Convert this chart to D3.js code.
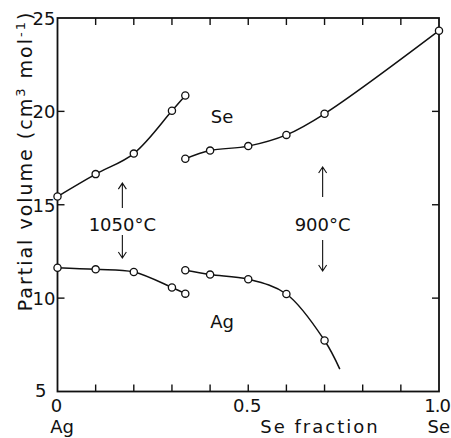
<!DOCTYPE html>
<html>
<head>
<meta charset="utf-8">
<script src="https://cdn.jsdelivr.net/npm/d3@7"></script>
<style>
  body { margin: 0; background: #fff; }
  text { font-family: "DejaVu Sans", sans-serif; fill: #111; }
</style>
</head>
<body>
<svg width="451" height="438"></svg>
<script>
// partial molar volumes (cm3/mol) vs Se fraction
var se1050 = [[0, 15.44], [0.1, 16.64], [0.2, 17.74], [0.3, 20.03], [0.335, 20.85]]
var se900 = [[0.335, 17.46], [0.4, 17.9], [0.5, 18.14], [0.6, 18.74], [0.7, 19.87], [1.0, 24.32]]
var ag1050 = [[0, 11.63], [0.1, 11.54], [0.2, 11.4], [0.3, 10.57], [0.335, 10.24]]
var ag900 = [[0.335, 11.49], [0.4, 11.26], [0.5, 11.01], [0.6, 10.22], [0.7, 7.73]]
var ag900Tail = [0.74, 6.2] // curve end, no marker

var yTicks = [5, 10, 15, 20, 25]
var xTickLabels = [[0, '0'], [0.5, '0.5'], [1.0, '1.0']]

var svg = d3.select('svg')
var x = d3.scaleLinear().domain([0, 1]).range([57.5, 439])
var y = d3.scaleLinear().domain([5, 25]).range([391.5, 18])

// frame
svg.append('rect')
  .attr('x', x(0)).attr('y', y(25))
  .attr('width', x(1) - x(0)).attr('height', y(5) - y(25))
  .attr('fill', 'none').attr('stroke', '#111').attr('stroke-width', 1.8)

// inward ticks
var minor = d3.range(1, 10).map(d => d / 10)
svg.selectAll('.tb').data(minor).enter().append('line')
  .attr('x1', d => x(d)).attr('x2', d => x(d))
  .attr('y1', y(5)).attr('y2', y(5) - 7)
  .attr('stroke', '#111').attr('stroke-width', 1.4)
svg.selectAll('.tt').data(minor).enter().append('line')
  .attr('x1', d => x(d)).attr('x2', d => x(d))
  .attr('y1', y(25)).attr('y2', y(25) + 7)
  .attr('stroke', '#111').attr('stroke-width', 1.4)
var midY = [10, 15, 20]
svg.selectAll('.tl').data(midY).enter().append('line')
  .attr('x1', x(0)).attr('x2', x(0) + 7)
  .attr('y1', d => y(d)).attr('y2', d => y(d))
  .attr('stroke', '#111').attr('stroke-width', 1.4)
svg.selectAll('.tr').data(midY).enter().append('line')
  .attr('x1', x(1)).attr('x2', x(1) - 7)
  .attr('y1', d => y(d)).attr('y2', d => y(d))
  .attr('stroke', '#111').attr('stroke-width', 1.4)

// y tick labels
svg.selectAll('.yl').data(yTicks).enter().append('text')
  .attr('x', d => d === 5 ? x(0) - 11 : x(0) - 2)
  .attr('y', d => d === 5 ? y(d) + 5 : y(d) + 7)
  .attr('text-anchor', 'end')
  .style('font-size', '18px')
  .text(d => d)

// x tick labels
svg.selectAll('.xl').data(xTickLabels).enter().append('text')
  .attr('x', d => d[0] === 1 ? 450 : x(d[0]) - 1)
  .attr('y', 412)
  .attr('text-anchor', d => d[0] === 1 ? 'end' : 'middle')
  .style('font-size', '18px')
  .style('letter-spacing', d => d[0] === 1 ? '-1px' : null)
  .text(d => d[1])

svg.append('text').attr('x', 62).attr('y', 433).attr('text-anchor', 'middle')
  .style('font-size', '18px').text('Ag')
svg.append('text').attr('x', 320).attr('y', 433).attr('text-anchor', 'middle')
  .style('font-size', '18px').style('letter-spacing', '2px').text('Se fraction')
svg.append('text').attr('x', 450).attr('y', 433).attr('text-anchor', 'end')
  .style('font-size', '18px').text('Se')

// y title
var yt = svg.append('text')
  .attr('transform', 'translate(32,161) rotate(-90)')
  .attr('text-anchor', 'middle')
  .style('font-size', '19px').style('letter-spacing', '2px')
yt.append('tspan').text('Partial volume (cm')
yt.append('tspan').attr('dy', -7).style('font-size', '13px').text('3')
yt.append('tspan').attr('dy', 7).text(' mol')
yt.append('tspan').attr('dy', -7).style('font-size', '13px').text('-1')
yt.append('tspan').attr('dy', 7).text(')')

// curves
var line = d3.line()
  .x(d => x(d[0])).y(d => y(d[1]))
  .curve(d3.curveCatmullRom.alpha(0.5))
var curves = [se1050, se900, ag1050, ag900.concat([ag900Tail])]
svg.selectAll('.curve').data(curves).enter().append('path')
  .attr('d', line)
  .attr('fill', 'none').attr('stroke', '#111').attr('stroke-width', 1.5)

// markers
var pts = [].concat(se1050, se900, ag1050, ag900)
svg.selectAll('.pt').data(pts).enter().append('circle')
  .attr('cx', d => x(d[0])).attr('cy', d => y(d[1]))
  .attr('r', 3.6)
  .attr('fill', '#fff').attr('stroke', '#111').attr('stroke-width', 1.3)

// labels
svg.append('text').attr('x', 222).attr('y', 123).attr('text-anchor', 'middle')
  .style('font-size', '18px').text('Se')
svg.append('text').attr('x', 222).attr('y', 328).attr('text-anchor', 'middle')
  .style('font-size', '18px').text('Ag')

// temperature notes with arrows (value ranges: tail -> tip)
var notes = [
  { label: '1050°C', x: 0.17, up: [14.83, 16.16], down: [13.38, 12.15] },
  { label: '900°C', x: 0.695, up: [15.41, 17.02], down: [13.11, 11.45] }
]
notes.forEach(function (n) {
  svg.append('text').attr('x', x(n.x)).attr('y', y(13.59))
    .attr('text-anchor', 'middle').style('font-size', '18px').text(n.label)
  ;[n.up, n.down].forEach(function (a) {
    var x0 = x(n.x), y0 = y(a[0]), y1 = y(a[1])
    var dir = y1 < y0 ? 1 : -1
    svg.append('path')
      .attr('d', 'M' + x0 + ',' + y0 + 'L' + x0 + ',' + y1 +
        'M' + (x0 - 4) + ',' + (y1 + dir * 6) + 'L' + x0 + ',' + y1 + 'L' + (x0 + 4) + ',' + (y1 + dir * 6))
      .attr('fill', 'none').attr('stroke', '#111').attr('stroke-width', 1.1)
  })
})
</script>
</body>
</html>
